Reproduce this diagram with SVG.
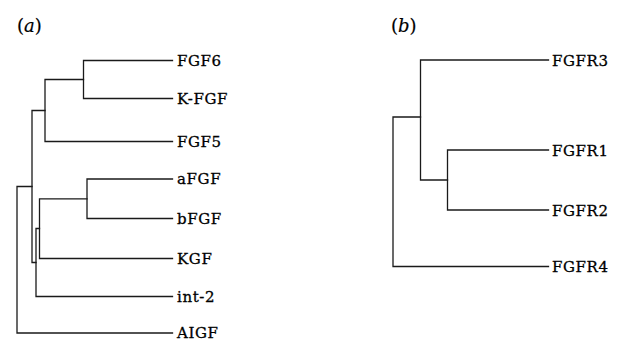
<svg xmlns="http://www.w3.org/2000/svg" width="618" height="341" viewBox="0 0 618 341">
  <style>
    .br { fill: none; stroke: #1a1a1a; stroke-width: 1.3; stroke-linecap: square; }
    .lbl { font-family: "DejaVu Serif", "Liberation Serif", serif; font-size: 15px; letter-spacing: 0.6px; fill: #000; stroke: #000; stroke-width: 0.3; }
    .panel { font-family: "DejaVu Serif", "Liberation Serif", serif; font-size: 18px; fill: #000; stroke: #000; stroke-width: 0.2; }
  </style>
  <rect width="618" height="341" fill="#fff"/>

  <!-- panel titles -->
  <g id="title-a"><text class="panel" x="17" y="32">(<tspan font-style="italic">a</tspan>)</text></g>
  <g id="title-b"><text class="panel" x="391" y="32">(<tspan font-style="italic">b</tspan>)</text></g>

  <!-- tree branches -->
  <g id="connectors">
    <!-- (a) ligand tree -->
    <path class="br" d="M172.5,60.5 H83.5 V98.5 H172.5"/>
    <path class="br" d="M83.5,79.5 H45 V141.5 H172.5"/>
    <path class="br" d="M172.5,179 H87 V218.5 H172.5"/>
    <path class="br" d="M87,198.8 H39.5 V258.5 H172.5"/>
    <path class="br" d="M39.5,228.5 H36 V296.5 H172.5"/>
    <path class="br" d="M45,110.5 H32 V262.5 H36"/>
    <path class="br" d="M32,186.5 H17 V333 H172.5"/>
    <!-- (b) receptor tree -->
    <path class="br" d="M548.5,150 H447.5 V210 H548.5"/>
    <path class="br" d="M548.5,60 H420.5 V180 H447.5"/>
    <path class="br" d="M420.5,117 H393 V266.5 H548.5"/>
  </g>

  <!-- leaves, panel (a) -->
  <g id="FGF6"><text class="lbl" x="177" y="65.5">FGF6</text></g>
  <g id="K-FGF"><text class="lbl" x="177" y="103.5">K-FGF</text></g>
  <g id="FGF5"><text class="lbl" x="177" y="146.5">FGF5</text></g>
  <g id="aFGF"><text class="lbl" x="177" y="184">aFGF</text></g>
  <g id="bFGF"><text class="lbl" x="177" y="223.5">bFGF</text></g>
  <g id="KGF"><text class="lbl" x="177" y="263.5">KGF</text></g>
  <g id="int-2"><text class="lbl" x="177" y="301.5">int-2</text></g>
  <g id="AIGF"><text class="lbl" x="177" y="338">AIGF</text></g>

  <!-- leaves, panel (b) -->
  <g id="FGFR3"><text class="lbl" x="552" y="65.5">FGFR3</text></g>
  <g id="FGFR1"><text class="lbl" x="552" y="155.5">FGFR1</text></g>
  <g id="FGFR2"><text class="lbl" x="552" y="215.5">FGFR2</text></g>
  <g id="FGFR4"><text class="lbl" x="552" y="272">FGFR4</text></g>
</svg>
